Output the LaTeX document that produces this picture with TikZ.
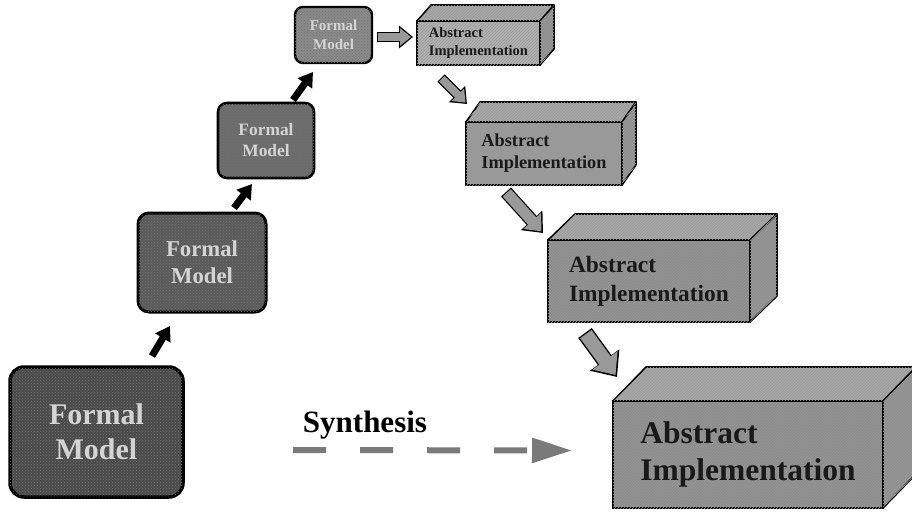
\documentclass[tikz,border=0pt]{standalone}
\usepackage{fontspec}
\setmainfont{Liberation Serif}
\usetikzlibrary{arrows.meta,patterns}
\definecolor{FmDark}{HTML}{4A4A4A}
\definecolor{FmMid}{HTML}{5A5A5A}
\definecolor{FmLite}{HTML}{6C6C6C}
\definecolor{FmPale}{HTML}{8A8A8A}
\definecolor{FmText}{HTML}{D4D4D4}
\definecolor{AiPale}{HTML}{B2B2B2}
\definecolor{AiMid}{HTML}{999999}
\definecolor{AiDeep}{HTML}{8C8C8C}
\definecolor{AiTop}{HTML}{A8A8A8}
\definecolor{AiSide}{HTML}{909090}
\definecolor{DashGray}{HTML}{7A7A7A}

\begin{document}
\begin{tikzpicture}[x=1pt,y=-1pt,
  fs/.style 2 args={font=\bfseries\fontsize{#1}{#2}\selectfont},
  fmbox/.style={draw=black,align=center,text=FmText,outer sep=0pt,
    postaction={pattern=crosshatch dots,pattern color=white!45!black}},
  aiface/.style={draw=black,line width=1.6pt,align=left,text=black!90,outer sep=0pt,
    postaction={pattern=north east lines,pattern color=black!40}},
  aiside/.style={draw=black,line width=1.6pt,line join=round,
    postaction={pattern=north east lines,pattern color=black!40}},
  blk/.style={line width=7pt,-{Triangle[length=14pt,width=17pt]}},
  fatS/.style={draw=AiMid,line width=8pt,-{Triangle[length=11pt,width=17pt]},
    shorten >=2pt,shorten <=1.2pt,
    preaction={draw=black,line width=10.4pt,shorten >=0pt,shorten <=0pt,
      -{Triangle[length=14pt,width=22pt]}}},
  fatM/.style={draw=AiMid,line width=11pt,-{Triangle[length=14pt,width=23pt]},
    shorten >=2.2pt,shorten <=1.2pt,
    preaction={draw=black,line width=13.4pt,shorten >=0pt,shorten <=0pt,
      -{Triangle[length=17pt,width=28pt]}}},
  fatL/.style={draw=AiMid,line width=14pt,-{Triangle[length=18pt,width=30pt]},
    shorten >=2.5pt,shorten <=1.4pt,
    preaction={draw=black,line width=16.8pt,shorten >=0pt,shorten <=0pt,
      -{Triangle[length=21pt,width=35pt]}}},
  synth/.style={draw=DashGray,line width=6pt,dash pattern=on 33pt off 34pt,
    -{Triangle[length=40pt,width=24pt]}}
]
\useasboundingbox (0,0) rectangle (912,511);

% formal models, shrinking towards the top
\node[fmbox,fill=FmDark,line width=3.5pt,rounded corners=14pt,
  minimum width=173pt,minimum height=130pt,fs={30}{35}] (fm1) at (96.5,432) {Formal\\Model};
\node[fmbox,fill=FmMid,line width=3pt,rounded corners=11pt,
  minimum width=128pt,minimum height=99pt,fs={22.7}{27}] (fm2) at (202,262.5) {Formal\\Model};
\node[fmbox,fill=FmLite,line width=2.6pt,rounded corners=9pt,
  minimum width=96pt,minimum height=75pt,fs={17.4}{21}] (fm3) at (266,140.5) {Formal\\Model};
\node[fmbox,fill=FmPale,line width=2.4pt,rounded corners=8pt,
  minimum width=77pt,minimum height=56pt,fs={15}{19}] (fm4) at (333.5,35) {Formal\\Model};

% abstract implementations (front faces)
\node[aiface,fill=AiPale,minimum width=123pt,minimum height=44pt,fs={14.5}{18}] (ai1) at (478.5,43) {Abstract\\Implementation};
\node[aiface,fill=AiMid,minimum width=156pt,minimum height=63pt,fs={18.3}{22}] (ai2) at (544,153.5) {Abstract\\Implementation};
\node[aiface,fill=AiDeep,minimum width=202pt,minimum height=82pt,fs={23.4}{29}] (ai3) at (649,281) {Abstract\\Implementation};
\node[aiface,fill=AiDeep,minimum width=270pt,minimum height=107pt,fs={31.5}{37}] (ai4) at (748,454.5) {Abstract\\Implementation};

% top and side faces of the blocks
\draw[aiside,fill=AiTop] (ai1.north west) -- ++(14,-16) -- ([shift={(14,-16)}]ai1.north east) -- (ai1.north east) -- cycle;
\draw[aiside,fill=AiSide] (ai1.north east) -- ++(14,-16) -- ([shift={(14,-16)}]ai1.south east) -- (ai1.south east) -- cycle;
\draw[aiside,fill=AiTop] (ai2.north west) -- ++(14,-20) -- ([shift={(14,-20)}]ai2.north east) -- (ai2.north east) -- cycle;
\draw[aiside,fill=AiSide] (ai2.north east) -- ++(14,-20) -- ([shift={(14,-20)}]ai2.south east) -- (ai2.south east) -- cycle;
\draw[aiside,fill=AiTop] (ai3.north west) -- ++(27,-26) -- ([shift={(27,-26)}]ai3.north east) -- (ai3.north east) -- cycle;
\draw[aiside,fill=AiSide] (ai3.north east) -- ++(27,-26) -- ([shift={(27,-26)}]ai3.south east) -- (ai3.south east) -- cycle;
\draw[aiside,fill=AiTop] (ai4.north west) -- ++(33,-34) -- ([shift={(33,-34)}]ai4.north east) -- (ai4.north east) -- cycle;
\draw[aiside,fill=AiSide] (ai4.north east) -- ++(33,-34) -- ([shift={(33,-34)}]ai4.south east) -- (ai4.south east) -- cycle;

% refinement steps
\draw[blk] ([xshift=-31pt,yshift=11pt]fm1.north east) -- ([xshift=-32pt,yshift=-14pt]fm2.south);
\draw[blk] ([xshift=32pt,yshift=5pt]fm2.north) -- ([xshift=-14pt,yshift=-6pt]fm3.south);
\draw[blk] ([xshift=27pt,yshift=3pt]fm3.north) -- ([xshift=-20.5pt,yshift=-9pt]fm4.south);

% implementation steps
\draw[fatS] ([xshift=5pt,yshift=-2pt]fm4.east) -- ([xshift=-4pt,yshift=6pt]ai1.west);
\draw[fatS] ([xshift=24pt,yshift=-13pt]ai1.south west) -- ([xshift=1pt,yshift=18pt]ai2.north west);
\draw[fatM] ([xshift=40pt,yshift=-7pt]ai2.south west) -- ([xshift=-5pt,yshift=7pt]ai3.north west);
\draw[fatL] ([xshift=37pt,yshift=-11pt]ai3.south west) -- ([xshift=4pt,yshift=24pt]ai4.north west);

% direct synthesis
\draw[synth] ([xshift=110pt,yshift=-18pt]fm1.east) -- ([xshift=-41pt,yshift=4pt]ai4.west)
  node[pos=0.258,above=5pt,text=black,fs={31}{36}] {Synthesis};
\end{tikzpicture}
\end{document}
